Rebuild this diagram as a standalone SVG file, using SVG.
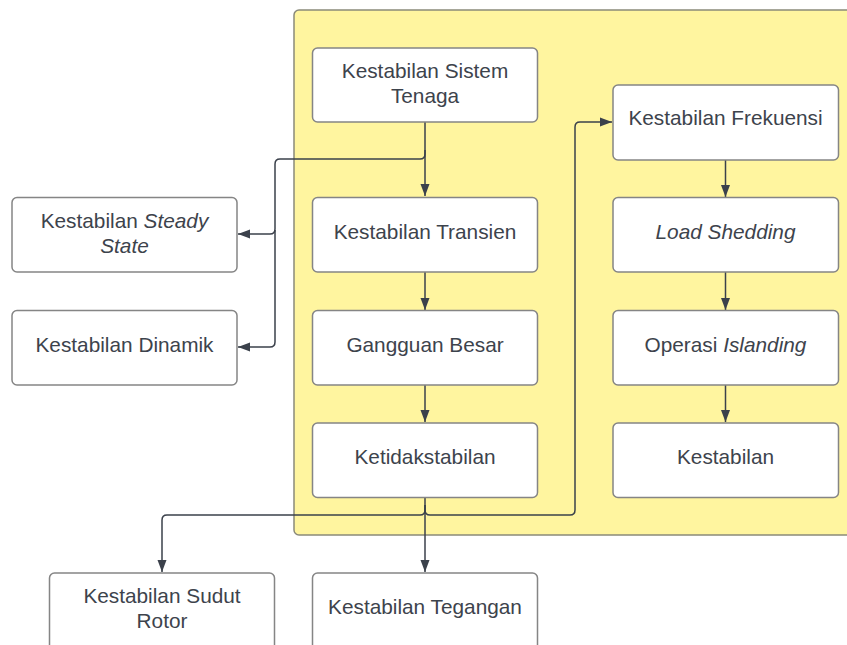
<svg xmlns="http://www.w3.org/2000/svg" width="847" height="645" viewBox="0 0 847 645">
<defs>
<marker id="arr" markerUnits="userSpaceOnUse" markerWidth="13" markerHeight="11" refX="12" refY="5.5" orient="auto">
<path d="M0,1 L12,5.5 L0,10 Z" fill="#3b414b"/>
</marker>
<style>
.box{fill:#ffffff;stroke:#858585;stroke-width:1.5}
.t{font-family:"Liberation Sans",Arial,sans-serif;font-size:20.8px;fill:#3d434c;text-anchor:middle}
.i{font-style:italic}
.c{fill:none;stroke:#3b414b;stroke-width:1.5}
</style>
</defs>
<rect width="847" height="645" fill="#ffffff"/>
<g id="container">
<rect x="294" y="10" width="570" height="525" rx="5" fill="#fff59f" stroke="#8a8a7a" stroke-width="1.5"/>
</g>
<g id="connectors">
<path class="c" d="M425,122 V196" marker-end="url(#arr)"/>
<path class="c" d="M425,150 V154 Q425,159 420,159 H280 Q275,159 275,164 V229 Q275,234 270,234 H238" marker-end="url(#arr)"/>
<path class="c" d="M275,230 V342 Q275,347 270,347 H238" marker-end="url(#arr)"/>
<path class="c" d="M425,272 V310" marker-end="url(#arr)"/>
<path class="c" d="M425,385 V422" marker-end="url(#arr)"/>
<path class="c" d="M425,497 V572" marker-end="url(#arr)"/>
<path class="c" d="M425,505 V510 Q425,515 420,515 H167 Q162,515 162,520 V572" marker-end="url(#arr)"/>
<path class="c" d="M425,505 V510 Q425,515 430,515 H570 Q575,515 575,510 V127 Q575,122 580,122 H612" marker-end="url(#arr)"/>
<path class="c" d="M725.5,160 V197" marker-end="url(#arr)"/>
<path class="c" d="M725.5,272 V310" marker-end="url(#arr)"/>
<path class="c" d="M725.5,385 V422" marker-end="url(#arr)"/>
</g>
<g id="n-sistem-tenaga">
<rect class="box" x="312.5" y="48" width="225" height="74" rx="5"/>
<text class="t" x="425" y="78">Kestabilan Sistem</text>
<text class="t" x="425" y="103">Tenaga</text>
</g>
<g id="n-transien">
<rect class="box" x="312.5" y="197.5" width="225" height="74.5" rx="5"/>
<text class="t" x="425" y="238.5">Kestabilan Transien</text>
</g>
<g id="n-gangguan">
<rect class="box" x="312.5" y="310.5" width="225" height="74.5" rx="5"/>
<text class="t" x="425" y="351.5">Gangguan Besar</text>
</g>
<g id="n-ketidakstabilan">
<rect class="box" x="312.5" y="423" width="225" height="74.5" rx="5"/>
<text class="t" x="425" y="464">Ketidakstabilan</text>
</g>
<g id="n-steady-state">
<rect class="box" x="12" y="197.5" width="225" height="74.5" rx="5"/>
<text class="t" x="124.5" y="228">Kestabilan <tspan class="i">Steady</tspan></text>
<text class="t i" x="124.5" y="253">State</text>
</g>
<g id="n-dinamik">
<rect class="box" x="12" y="310.5" width="225" height="74.5" rx="5"/>
<text class="t" x="124.5" y="351.5">Kestabilan Dinamik</text>
</g>
<g id="n-frekuensi">
<rect class="box" x="613" y="85" width="225.5" height="75" rx="5"/>
<text class="t" x="725.5" y="125">Kestabilan Frekuensi</text>
</g>
<g id="n-load-shedding">
<rect class="box" x="613" y="197.5" width="225.5" height="74.5" rx="5"/>
<text class="t i" x="725.5" y="238.5">Load Shedding</text>
</g>
<g id="n-islanding">
<rect class="box" x="613" y="310.5" width="225.5" height="74.5" rx="5"/>
<text class="t" x="725.5" y="351.5">Operasi <tspan class="i">Islanding</tspan></text>
</g>
<g id="n-kestabilan">
<rect class="box" x="613" y="423" width="225.5" height="74.5" rx="5"/>
<text class="t" x="725.5" y="464">Kestabilan</text>
</g>
<g id="n-sudut-rotor">
<rect class="box" x="49.5" y="573" width="225" height="80" rx="5"/>
<text class="t" x="162" y="603">Kestabilan Sudut</text>
<text class="t" x="162" y="628">Rotor</text>
</g>
<g id="n-tegangan">
<rect class="box" x="312.5" y="573" width="225" height="80" rx="5"/>
<text class="t" x="425" y="614">Kestabilan Tegangan</text>
</g>
</svg>
